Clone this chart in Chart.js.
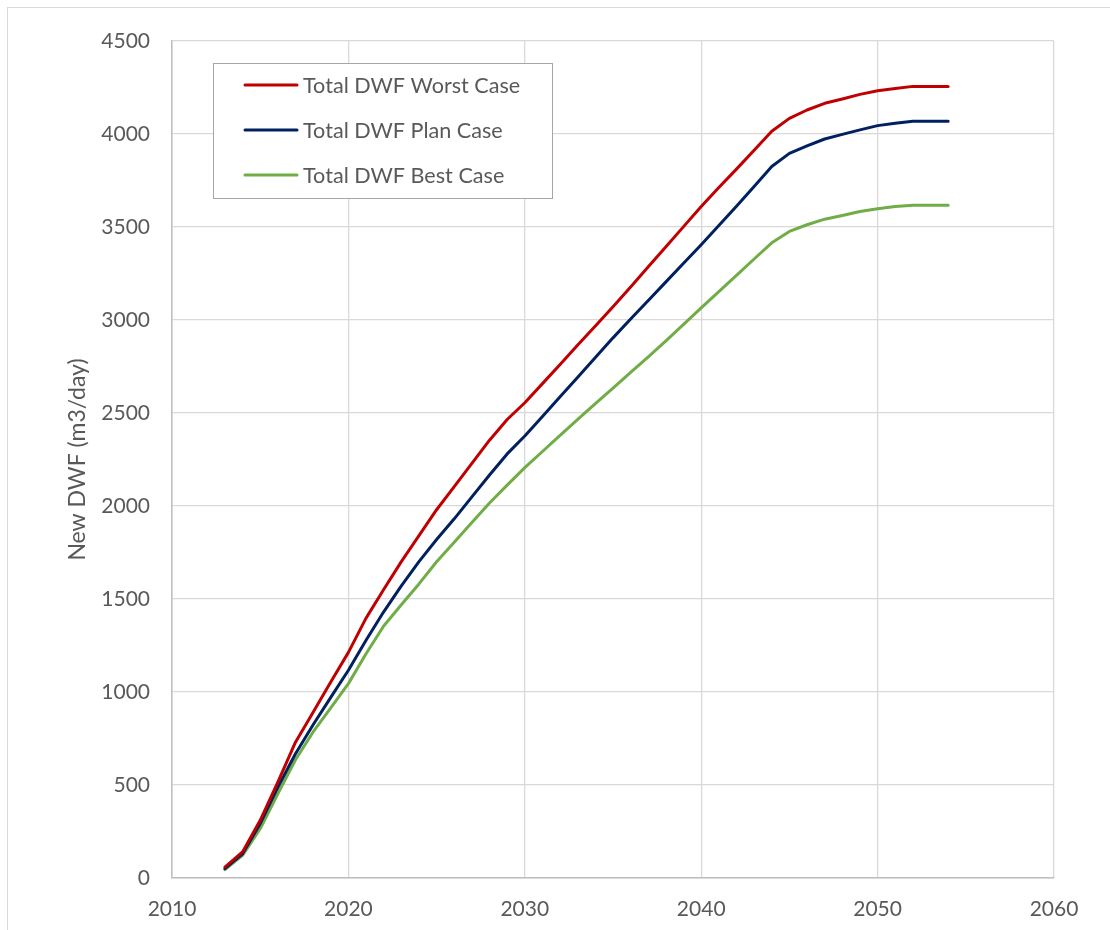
<!DOCTYPE html>
<html>
<head>
<meta charset="utf-8">
<script src="https://cdn.jsdelivr.net/npm/chart.js@4.4.1/dist/chart.umd.min.js"></script>
<style>
  html, body { margin: 0; padding: 0; background: #fff; }
  #wrap { position: relative; width: 1110px; height: 930px; }
</style>
</head>
<body>
<div id="wrap"><canvas id="myChart" width="1110" height="930"></canvas></div>
<script>

const years = [2013, 2014, 2015, 2016, 2017, 2018, 2019, 2020, 2021, 2022,
    2023, 2024, 2025, 2026, 2027, 2028, 2029, 2030, 2031, 2032,
    2033, 2034, 2035, 2036, 2037, 2038, 2039, 2040, 2041, 2042,
    2043, 2044, 2045, 2046, 2047, 2048, 2049, 2050, 2051, 2052,
    2053, 2054];

const worstCase = [59, 140, 310, 515, 730, 891, 1054, 1213, 1397, 1551,
    1701, 1841, 1980, 2104, 2229, 2354, 2465, 2555, 2658, 2761,
    2865, 2968, 3071, 3178, 3286, 3394, 3502, 3610, 3712, 3811,
    3913, 4015, 4084, 4129, 4165, 4188, 4213, 4233, 4245, 4256,
    4256, 4256];

const planCase = [50, 130, 292, 488, 668, 824, 971, 1117, 1278, 1431,
    1571, 1701, 1820, 1931, 2049, 2167, 2280, 2376, 2481, 2587,
    2692, 2798, 2904, 3005, 3105, 3205, 3305, 3405, 3508, 3612,
    3718, 3825, 3896, 3936, 3973, 3998, 4022, 4045, 4058, 4068,
    4068, 4068];

const bestCase = [45, 122, 265, 453, 636, 785, 915, 1045, 1206, 1355,
    1469, 1581, 1700, 1805, 1911, 2016, 2112, 2206, 2293, 2380,
    2466, 2550, 2634, 2718, 2802, 2888, 2976, 3065, 3153, 3240,
    3328, 3415, 3476, 3512, 3542, 3562, 3583, 3598, 3610, 3617,
    3617, 3617];

const seriesNames = ['Total DWF Worst Case', 'Total DWF Plan Case', 'Total DWF Best Case'];
const seriesColors = ['#C00000', '#002060', '#70AD47'];

const fontName = 'Lato, "Open Sans", sans-serif';
const textColor = '#595959';

function points(values) {
    return years.map((y, i) => ({ x: y, y: values[i] }));
}

// outer chart border (only left/top show in the picture)
const frame = {
    id: 'frame',
    beforeDraw(chart) {
        const ctx = chart.ctx;
        ctx.save();
        ctx.strokeStyle = '#d9d9d9';
        ctx.lineWidth = 1;
        ctx.strokeRect(7.5, 7.5, 1200, 1000);
        ctx.restore();
    }
};

// legend box inside the plot
const boxLegend = {
    id: 'boxLegend',
    afterDraw(chart) {
        const ctx = chart.ctx;
        ctx.save();
        ctx.fillStyle = '#fff';
        ctx.fillRect(213, 63, 339, 135);
        ctx.strokeStyle = '#a6a6a6';
        ctx.lineWidth = 1;
        ctx.strokeRect(213.5, 63.5, 339, 135);
        ctx.font = '21.6px ' + fontName;
        ctx.textBaseline = 'middle';
        chart.data.datasets.forEach((ds, i) => {
            const y = 85 + i * 45;
            ctx.strokeStyle = ds.borderColor;
            ctx.lineWidth = 3;
            ctx.lineCap = 'round';
            ctx.beginPath();
            ctx.moveTo(245, y);
            ctx.lineTo(297, y);
            ctx.stroke();
            ctx.fillStyle = textColor;
            ctx.fillText(ds.label, 303, y + 1);
        });
        ctx.restore();
    }
};

const data = {
    datasets: [
        { label: seriesNames[0], data: points(worstCase), borderColor: seriesColors[0] },
        { label: seriesNames[1], data: points(planCase), borderColor: seriesColors[1] },
        { label: seriesNames[2], data: points(bestCase), borderColor: seriesColors[2] }
    ].map(d => Object.assign(d, {
        backgroundColor: d.borderColor,
        borderWidth: 3,
        pointRadius: 0,
        tension: 0,
        borderCapStyle: 'round',
        borderJoinStyle: 'round'
    }))
};

const config = {
    type: 'line',
    data: data,
    plugins: [frame, boxLegend],
    options: {
        responsive: false,
        animation: false,
        layout: { padding: { top: 41, right: 56, left: 0, bottom: 0 } },
        plugins: {
            legend: { display: false },
            tooltip: { enabled: false }
        },
        scales: {
            x: {
                type: 'linear',
                min: 2010,
                max: 2060,
                afterFit: (s) => { s.height = 52; },
                ticks: {
                    stepSize: 10,
                    padding: 19,
                    color: textColor,
                    font: { family: fontName, size: 21 },
                    callback: (v) => String(v),
                    maxRotation: 0
                },
                grid: { color: '#d9d9d9', lineWidth: 1.3, drawTicks: false },
                border: { color: '#bfbfbf', width: 1.5 }
            },
            y: {
                min: 0,
                max: 4500,
                afterFit: (s) => { s.width = 172; },
                ticks: {
                    stepSize: 500,
                    padding: 22,
                    color: textColor,
                    font: { family: fontName, size: 21 },
                    callback: (v) => String(v)
                },
                grid: { color: '#d9d9d9', lineWidth: 1.3, drawTicks: false },
                border: { color: '#bfbfbf', width: 1.5 },
                title: {
                    display: true,
                    text: 'New DWF (m3/day)',
                    color: textColor,
                    font: { family: fontName, size: 23 },
                    padding: { top: 64, bottom: 0 }
                }
            }
        }
    }
};

const myChart = new Chart(document.getElementById('myChart'), config);
</script>
</body>
</html>
